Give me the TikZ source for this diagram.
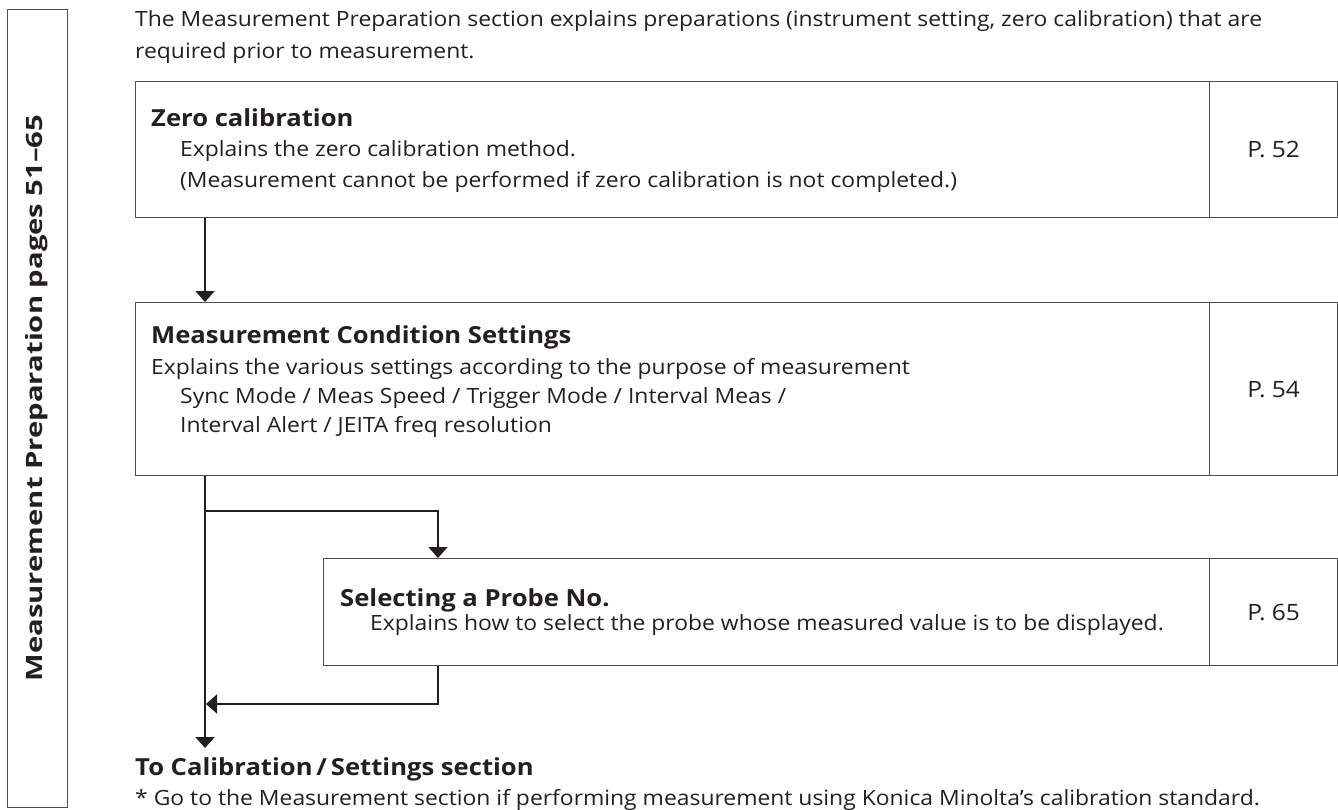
\documentclass[tikz,border=0pt]{standalone}
\usepackage{fontspec}
\setmainfont{Open Sans}[FakeStretch=1.09]
\newfontfamily\sidefont{Open Sans}[FakeStretch=1.3]
\usetikzlibrary{arrows.meta,calc}
\definecolor{ink}{HTML}{231F20}
\tikzset{
    box/.style={draw=ink!80, line width=1.3pt, anchor=north west, inner sep=0pt},
    page/.style={box, minimum width=128pt, font=\fontsize{22.5}{24}\selectfont, text=ink},
    flow/.style={-{Triangle[length=11pt,width=19pt]}, line width=2pt, draw=ink},
    txt/.style={anchor=base west, inner sep=0pt, text=ink,
                font=\fontsize{21}{26}\selectfont},
    head/.style={txt, font=\fontsize{23.5}{26}\selectfont\bfseries},
}
\newcommand{\sectionbox}[5]{
    \node[box, minimum width={1209-#2}, minimum height=#4] (#1) at (#2,#3) {};
    \node[page, minimum height=#4] (#1page) at (1209,#3) {#5};
}

\begin{document}
\begin{tikzpicture}[x=1pt, y=-1pt]
    \path[use as bounding box] (0,0) rectangle (1338,810);

    % side bar
    \node[box, minimum width=60, minimum height=798] (sidebar) at (7,9) {};
    \node[rotate=90, anchor=base, inner sep=0pt, text=ink,
          font=\sidefont\fontsize{22.5}{24}\selectfont\bfseries] (sidetitle) at (42,398)
        {Measurement Preparation pages 51–65};

    \node[txt] (introa) at (135,27) {The Measurement Preparation section explains preparations (instrument setting, zero calibration) that are};
    \node[txt] (introb) at (135,59) {required prior to measurement.};

    % boxes
    \sectionbox{zero}{135}{81}{136}{P. 52}
    \node[head] (zerohead) at (151,127) {Zero calibration};
    \node[txt] (zeroa) at (180,157) {Explains the zero calibration method.};
    \node[txt] (zerob) at (180,188) {(Measurement cannot be performed if zero calibration is not completed.)};

    \sectionbox{cond}{135}{302}{173}{P. 54}
    \node[head] (condhead) at (151,343) {Measurement Condition Settings};
    \node[txt] (conda) at (151,374) {Explains the various settings according to the purpose of measurement};
    \node[txt] (condb) at (180,403) {Sync Mode / Meas Speed / Trigger Mode / Interval Meas /};
    \node[txt] (condc) at (180,432) {Interval Alert / JEITA freq resolution};

    \sectionbox{probe}{323}{558}{107}{P. 65}
    \node[head] (probehead) at (340,606) {Selecting a Probe No.};
    \node[txt] (probea) at (370,630) {Explains how to select the probe whose measured value is to be displayed.};

    \node[head] (tonext) at (135,775) {To Calibration\,/\,Settings section};
    \node[txt] (note) at (135,805) {* Go to the Measurement section if performing measurement using Konica Minolta’s calibration standard.};

    % connectors
    \coordinate (split) at (205,511);
    \coordinate (merge) at (206,704);
    \coordinate (exit) at (205,748);
    \draw[flow] ([xshift=70pt]zero.south west) -- ([xshift=70pt]cond.north west);
    \draw[flow] ([xshift=70pt]cond.south west) -- (exit);
    \draw[flow] (split) -| ([xshift=115pt]probe.north west);
    \draw[flow] ([xshift=115pt]probe.south west) |- (merge);

\end{tikzpicture}
\end{document}
